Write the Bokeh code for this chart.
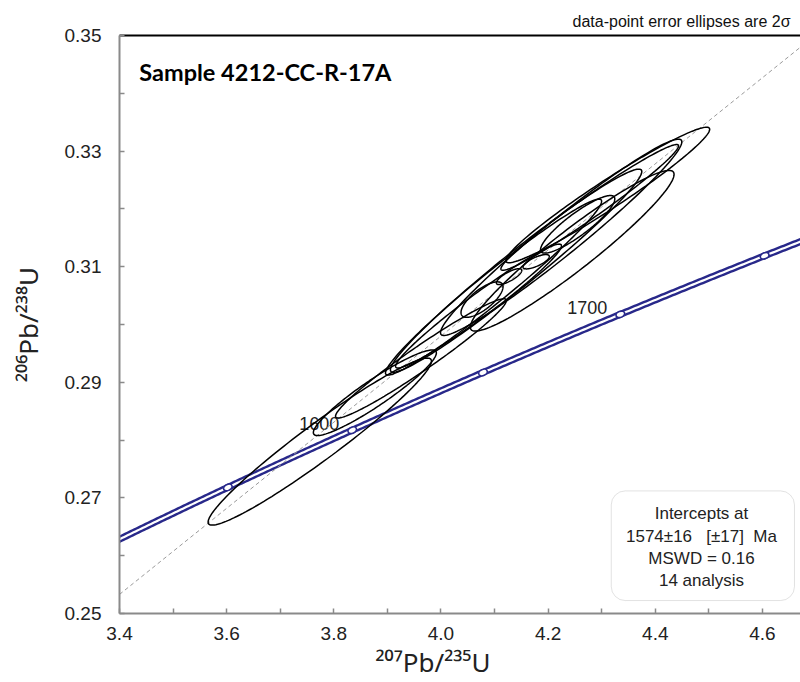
import numpy as np
from bokeh.plotting import figure
from bokeh.models import (LinearAxis, FixedTicker, Label, BoxAnnotation, Range1d,
                          PrintfTickFormatter)
from bokeh.embed import file_html
from bokeh.resources import INLINE
from bokeh.core.properties import value

# ---------------- data ----------------
# analyses: 207Pb/235U, 206Pb/238U, 2-sigma errors, error correlation
x_val = [3.7738, 3.8766, 3.9626, 4.0981, 4.1402, 4.0701, 4.2243,
         4.0766, 4.1271, 4.1776, 4.2551, 4.2449, 4.3112, 4.2776]
y_val = [0.27974, 0.28819, 0.29414, 0.30647, 0.30931, 0.30319, 0.31509,
         0.30431, 0.30828, 0.31086, 0.31733, 0.31276, 0.32241, 0.32026]
x_err2s = [0.2084, 0.1148, 0.1594, 0.2017, 0.2346, 0.1548, 0.2252,
           0.0392, 0.0237, 0.0245, 0.0693, 0.1901, 0.1903, 0.1658]
y_err2s = [0.01445, 0.00740, 0.01031, 0.01522, 0.01757, 0.01072, 0.01698,
           0.00307, 0.00138, 0.00124, 0.00498, 0.01390, 0.01172, 0.01088]
rho = [0.963, 0.931, 0.970, 0.976, 0.976, 0.972, 0.972,
       0.727, 0.78, 0.74, 0.882, 0.950, 0.969, 0.978]

intercept_age = 1574          # Ma, upper intercept (lower anchored at 0)
conc_tick_ages = [1550, 1600, 1650, 1700, 1750]
conc_label_ages = [1600, 1700]

x_ticks = [3.4, 3.6, 3.8, 4.0, 4.2, 4.4, 4.6]
x_minor = [3.5, 3.7, 3.9, 4.1, 4.3, 4.5]
y_ticks = [0.25, 0.27, 0.29, 0.31, 0.33, 0.35]
y_minor = [0.26, 0.28, 0.30, 0.32, 0.34]

title_text = "Sample 4212-CC-R-17A"
note_text = "data-point error ellipses are 2σ"
x_label = "²⁰⁷Pb/²³⁵U"
y_label = "²⁰⁶Pb/²³⁸U"
NB = "\u00a0"
box_lines = ["Intercepts at", "1574±16" + NB * 3 + "[±17]" + NB * 2 + "Ma",
             "MSWD = 0.16", "14 analysis"]

L238 = 1.55125e-4   # per Ma
L235 = 9.8485e-4    # per Ma

X0, X1 = 3.4, 4.671
Y0, Y1 = 0.25, 0.35

NAVY = "#28288a"
FONT = "Liberation Sans"


def concordia(t):
    t = np.asarray(t, dtype=float)
    return np.exp(L235 * t) - 1.0, np.exp(L238 * t) - 1.0


p = figure(width=800, height=682, x_range=Range1d(X0, X1), y_range=Range1d(Y0, Y1),
           output_backend="svg", toolbar_location=None,
           min_border_left=119, min_border_right=0, min_border_top=35, min_border_bottom=67)
p.xgrid.visible = False
p.ygrid.visible = False
p.outline_line_color = None
p.background_fill_color = "white"

# note as right-aligned title
p.title.text = note_text
p.title.align = "right"
p.title.offset = 10
p.title.text_font = FONT
p.title.text_font_size = "16px"
p.title.text_font_style = "normal"
p.title.text_color = "#111111"
p.title.standoff = 0

# axes
for ax, ticks, minor, fmt in ((p.xaxis[0], x_ticks, x_minor, "%.1f"),
                              (p.yaxis[0], y_ticks, y_minor, "%.2f")):
    ax.ticker = FixedTicker(ticks=ticks, minor_ticks=minor)
    ax.formatter = PrintfTickFormatter(format=fmt)
    ax.axis_line_color = "#8a8a8a"
    ax.axis_line_width = 2
    ax.major_tick_line_color = "#8a8a8a"
    ax.minor_tick_line_color = "#8a8a8a"
    ax.major_tick_line_width = 1.5
    ax.minor_tick_line_width = 1.5
    ax.major_tick_in = 5
    ax.major_tick_out = 0
    ax.minor_tick_in = 5
    ax.minor_tick_out = 0
    ax.major_label_text_font = FONT
    ax.major_label_text_font_size = "19px"
    ax.major_label_text_color = "#222222"
    ax.axis_label_text_font = "Noto Sans"
    ax.axis_label_text_font_style = "normal"
    ax.axis_label_text_font_size = "26px"
    ax.axis_label_text_color = "#222222"

p.xaxis[0].axis_label = x_label + NB * 8
p.xaxis[0].major_label_standoff = 13
p.xaxis[0].axis_label_standoff = 1
p.yaxis[0].axis_label = y_label
p.yaxis[0].major_label_standoff = 18
p.yaxis[0].axis_label_standoff = 16

top_axis = LinearAxis(ticker=FixedTicker(ticks=x_ticks), axis_line_color="black",
                      axis_line_width=1.8, major_tick_line_color=None,
                      minor_tick_line_color=None, major_label_text_font_size="1px",
                      major_label_text_color=None, major_label_standoff=0)
p.add_layout(top_axis, "above")

# concordia band
t = np.linspace(1480, 1800, 400)
cx, cy = concordia(t)
p.line(cx, cy, line_color=NAVY, line_width=7)
p.line(cx, cy, line_color="white", line_width=2.2)

# concordia age markers
mx, my = concordia(conc_tick_ages)
ta = np.asarray(conc_tick_ages, dtype=float)
slope = (L238 * np.exp(L238 * ta)) / (L235 * np.exp(L235 * ta))
px_ratio = (580 / (Y1 - Y0)) / (681 / (X1 - X0))
ang = np.arctan(slope * px_ratio)
p.ellipse(x=mx, y=my, width=9, height=6, angle=ang, width_units="screen",
          height_units="screen", fill_color="white", line_color=NAVY, line_width=1.6)

lx, ly = concordia(conc_label_ages)
p.text(x=lx, y=ly, text=[str(a) for a in conc_label_ages], text_align="right",
       text_baseline="bottom", x_offset=-13, y_offset=0,
       text_font=value(FONT), text_font_size="18px", text_color="#222222")

# discordia line through origin and the intercept
ix, iy = concordia([intercept_age])
dslope = iy[0] / ix[0]
p.line([X0, X1], [X0 * dslope, X1 * dslope], line_color="#9a9a9a",
       line_dash="4 3", line_width=1)

# error ellipses
th = np.linspace(0, 2 * np.pi, 160)
exs, eys = [], []
for x, y, a, b, r in zip(x_val, y_val, x_err2s, y_err2s, rho):
    exs.append(list(x + a * np.cos(th)))
    eys.append(list(y + b * (r * np.cos(th) + np.sqrt(1 - r * r) * np.sin(th))))
p.patches(exs, eys, fill_color=None, line_color="black", line_width=1.5)

# texts
p.add_layout(Label(x=3.437, y=0.34603, text=title_text, text_font="Lato",
                   text_font_style="bold", text_font_size="23.5px", text_color="black",
                   text_baseline="top", text_align="left"))

box = BoxAnnotation(left=4.3178, right=4.6598, top=0.27121, bottom=0.25224,
                    fill_color=None, line_color="#a0a0a0", line_width=1,
                    border_radius=14)
p.add_layout(box)
for i, s in enumerate(box_lines):
    p.add_layout(Label(x=4.4862, y=0.26724 - i * (22.4 / 5800), text=s,
                       text_font=FONT, text_font_size="17px", text_color="#222222",
                       text_align="center", text_baseline="middle"))

open("out.html", "w").write(file_html(p, INLINE))
